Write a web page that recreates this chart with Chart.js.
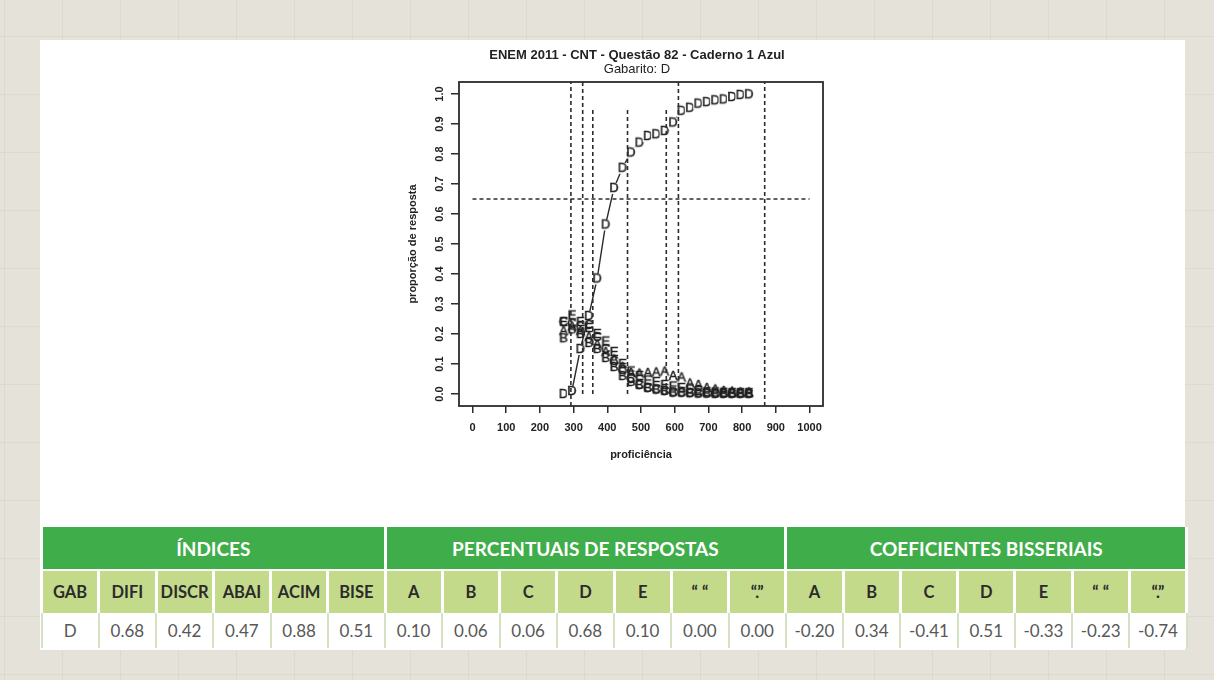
<!DOCTYPE html>
<html>
<head>
<meta charset="utf-8">
<script src="https://cdn.jsdelivr.net/npm/chart.js@4/dist/chart.umd.min.js"></script>
<style>
  html, body { margin: 0; padding: 0; }
  body {
    width: 1214px; height: 680px; overflow: hidden; position: relative;
    background-color: #e4e2d9;
    background-image:
      linear-gradient(rgba(110,105,90,0.07) 1px, transparent 1px),
      linear-gradient(90deg, rgba(110,105,90,0.07) 1px, transparent 1px);
    background-size: 58px 58px;
    background-position: 4px 36px;
  }
  #card { position: absolute; left: 40px; top: 40px; width: 1145px; height: 610px; background: #fff; }
  #grafico { position: absolute; left: 40px; top: 40px; }
  #tabela {
    position: absolute; left: 40px; top: 527px; width: 1145px;
    border-collapse: collapse; table-layout: fixed;
    font-family: Lato, "Open Sans", sans-serif;
  }
  #tabela td { text-align: center; padding: 0; white-space: nowrap; overflow: hidden; }
  #tabela tr.secao td {
    height: 42px; background: #3fad49; color: #fff; font-weight: 700; font-size: 19px;
    border-left: 3px solid #fff; border-right: 3px solid #fff; border-bottom: 2px solid #fff;
  }
  #tabela tr.cabec td {
    height: 42px; background: #c4da8b; color: #2b2b2b; font-weight: 700; font-size: 16.5px;
    border-left: 3px solid #fff; border-right: 3px solid #fff;
  }
  #tabela tr.valores td {
    height: 35px; background: #fff; color: #585858; font-size: 17px;
    border-left: 2px solid #d5e0c4; border-right: 2px solid #d5e0c4;
  }
</style>
</head>
<body>
<div id="card"></div>
<canvas id="grafico" width="1145" height="487"></canvas>
<table id="tabela"></table>
<script>
// curvas empiricas por alternativa
const proficiencia = [270, 295, 320, 345, 370, 395, 420, 445, 470, 495, 520, 545, 570, 595, 620, 645, 670, 695, 720, 745, 770, 795, 820];
const propA = [0.21, 0.225, 0.21, 0.19, 0.165, 0.14, 0.115, 0.09, 0.07, 0.068, 0.07, 0.072, 0.075, 0.06, 0.055, 0.035, 0.03, 0.02, 0.015, 0.01, 0.008, 0.005, 0.005];
const propB = [0.186, 0.215, 0.2, 0.17, 0.15, 0.12, 0.09, 0.06, 0.04, 0.03, 0.02, 0.015, 0.01, 0.005, 0.005, 0.003, 0.002, 0.002, 0.001, 0.001, 0.001, 0.001, 0.001];
const propC = [0.24, 0.235, 0.225, 0.23, 0.19, 0.15, 0.11, 0.08, 0.05, 0.03, 0.02, 0.015, 0.01, 0.005, 0.004, 0.003, 0.002, 0.002, 0.001, 0.001, 0.001, 0.001, 0.001];
const propD = [0.0, 0.01, 0.15, 0.26, 0.385, 0.565, 0.687, 0.754, 0.805, 0.838, 0.86, 0.866, 0.877, 0.905, 0.944, 0.954, 0.968, 0.973, 0.979, 0.982, 0.99, 0.997, 0.999];
const propE = [0.24, 0.262, 0.24, 0.22, 0.2, 0.175, 0.14, 0.1, 0.075, 0.06, 0.045, 0.04, 0.03, 0.025, 0.02, 0.015, 0.01, 0.006, 0.005, 0.004, 0.003, 0.003, 0.003];

// linhas de referencia tracejadas
const cortesX = [292, 327, 357, 460, 575, 611, 867];
const cortesTopo = [1.04, 1.04, 0.95, 0.95, 0.95, 1.04, 1.04];
const cortesBase = [-0.04, 0, 0, 0, 0, 0, -0.04];
const linhaH = 0.65;
const linhaHInicio = 0;
const linhaHFim = 1000;

const xTicks = [0, 100, 200, 300, 400, 500, 600, 700, 800, 900, 1000];
const yTicks = [0, 0.1, 0.2, 0.3, 0.4, 0.5, 0.6, 0.7, 0.8, 0.9, 1.0];
const yTickLabels = ["0.0", "0.1", "0.2", "0.3", "0.4", "0.5", "0.6", "0.7", "0.8", "0.9", "1.0"];

const tituloPrincipal = "ENEM 2011 - CNT - Questão 82 - Caderno 1 Azul";
const subtitulo = "Gabarito: D";

// tabela
const secoes = ["ÍNDICES", "PERCENTUAIS DE RESPOSTAS", "COEFICIENTES BISSERIAIS"];
const indicesCab = ["GAB", "DIFI", "DISCR", "ABAI", "ACIM", "BISE"];
const indicesVal = ["D", "0.68", "0.42", "0.47", "0.88", "0.51"];
const alternativas = ["A", "B", "C", "D", "E", "\u201C \u201C", "\u201C.\u201D"];
const percentuais = ["0.10", "0.06", "0.06", "0.68", "0.10", "0.00", "0.00"];
const bisseriais = ["-0.20", "0.34", "-0.41", "0.51", "-0.33", "-0.23", "-0.74"];

const FONTE = '"Liberation Sans", Arial, sans-serif';
const COR = "#222";

function letra(ch, fundo) {
  const c = document.createElement("canvas");
  c.width = 14; c.height = 16;
  const g = c.getContext("2d");
  if (fundo) {
    g.fillStyle = "#fff";
    g.fillRect(2, 3, 10, 11);
  }
  g.font = "13px " + FONTE;
  g.fillStyle = COR;
  g.strokeStyle = COR;
  g.lineWidth = 0.5;
  g.textAlign = "center";
  g.textBaseline = "middle";
  g.fillText(ch, 7, 8.5);
  g.strokeText(ch, 7, 8.5);
  return c;
}

function pontos(ys) {
  return proficiencia.map((x, i) => ({ x: x, y: ys[i] }));
}

function serieLetra(nome, ys) {
  return {
    label: nome,
    data: pontos(ys),
    showLine: false,
    pointStyle: letra(nome, false),
    pointRadius: 6,
    order: 2,
  };
}

const tracejado = {
  showLine: true,
  borderColor: "#2c2c2c",
  borderWidth: 1.6,
  borderDash: [4, 3],
  pointRadius: 0,
  order: 1,
};

const datasets = [
  {
    label: "D",
    data: pontos(propD),
    showLine: true,
    borderColor: "#2c2c2c",
    borderWidth: 1.4,
    pointStyle: letra("D", true),
    pointRadius: 6,
    order: 3,
  },
  serieLetra("A", propA),
  serieLetra("B", propB),
  serieLetra("C", propC),
  serieLetra("E", propE),
  Object.assign({ label: "corte", data: [{ x: linhaHInicio, y: linhaH }, { x: linhaHFim, y: linhaH }] }, tracejado),
];
cortesX.forEach((x, i) => {
  datasets.push(Object.assign({ label: "v" + i, data: [{ x: x, y: cortesBase[i] }, { x: x, y: cortesTopo[i] }] }, tracejado));
});

const molduraR = {
  id: "molduraR",
  afterDraw(chart) {
    const { ctx, chartArea: a } = chart;
    const yScale = chart.scales.y;
    const cx = (a.left + a.right) / 2 - 4;
    ctx.save();
    ctx.fillStyle = COR;
    ctx.textAlign = "center";
    ctx.textBaseline = "middle";
    ctx.font = "bold 13px " + FONTE;
    ctx.fillText(tituloPrincipal, cx, 15);
    ctx.font = "13px " + FONTE;
    ctx.fillText(subtitulo, cx, 29);
    // rotulos do eixo y girados (estilo R)
    ctx.font = "bold 11px " + FONTE;
    yTicks.forEach((v, i) => {
      const py = yScale.getPixelForValue(v);
      ctx.save();
      ctx.translate(a.left - 19, py);
      ctx.rotate(-Math.PI / 2);
      ctx.fillText(yTickLabels[i], 0, 0);
      ctx.restore();
    });
    ctx.strokeStyle = "#2c2c2c";
    ctx.lineWidth = 1.8;
    ctx.strokeRect(a.left, a.top, a.right - a.left, a.bottom - a.top);
    ctx.restore();
  },
};

new Chart(document.getElementById("grafico"), {
  type: "scatter",
  data: { datasets: datasets },
  plugins: [molduraR],
  options: {
    responsive: false,
    animation: false,
    layout: { padding: { left: 359, right: 362, top: 42, bottom: 61 } },
    plugins: { legend: { display: false }, tooltip: { enabled: false } },
    scales: {
      x: {
        type: "linear",
        min: -40,
        max: 1040,
        afterBuildTicks: (s) => { s.ticks = xTicks.map((v) => ({ value: v })); },
        afterFit: (s) => { s.height = 60; },
        grid: { drawOnChartArea: false, drawTicks: true, tickLength: 7, color: "#2c2c2c", lineWidth: 1.5 },
        border: { display: false },
        ticks: {
          font: { family: FONTE, size: 11, weight: "bold" }, color: COR, padding: 8, maxRotation: 0, autoSkip: false,
          callback: (v) => String(v),
        },
        title: { display: true, text: "proficiência", font: { family: FONTE, size: 11, weight: "bold" }, color: COR, padding: { top: 0, bottom: 4 } },
      },
      y: {
        type: "linear",
        min: -0.04,
        max: 1.04,
        afterBuildTicks: (s) => { s.ticks = yTicks.map((v) => ({ value: v })); },
        afterFit: (s) => { s.width = 60; },
        grid: { drawOnChartArea: false, drawTicks: true, tickLength: 8, color: "#2c2c2c", lineWidth: 1.5 },
        border: { display: false },
        ticks: { display: false },
        title: { display: true, text: "proporção de resposta", font: { family: FONTE, size: 11, weight: "bold" }, color: COR, padding: { top: 7, bottom: 0 } },
      },
    },
  },
});

// monta a tabela de indices
const tabela = document.getElementById("tabela");
let html = "<colgroup>" + "<col style='width:57.25px'>".repeat(20) + "</colgroup>";
html += "<tr class='secao'><td colspan='6'>" + secoes[0] + "</td><td colspan='7'>" + secoes[1] + "</td><td colspan='7'>" + secoes[2] + "</td></tr>";
const cab = indicesCab.concat(alternativas, alternativas);
const val = indicesVal.concat(percentuais, bisseriais);
html += "<tr class='cabec'>" + cab.map((t) => "<td>" + t + "</td>").join("") + "</tr>";
html += "<tr class='valores'>" + val.map((t) => "<td>" + t + "</td>").join("") + "</tr>";
tabela.innerHTML = html;
</script>
</body>
</html>
